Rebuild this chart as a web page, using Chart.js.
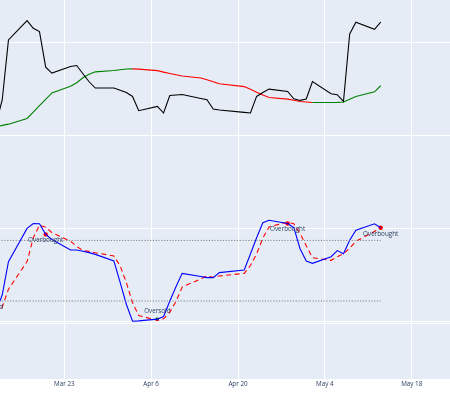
<!DOCTYPE html>
<html>
<head>
<meta charset="utf-8">
<script src="https://cdn.jsdelivr.net/npm/chart.js@4.4.1/dist/chart.umd.min.js"></script>
<style>
  html, body { margin: 0; padding: 0; background: #fff; }
  #wrap { width: 450px; height: 394px; }
</style>
</head>
<body>
<div id="wrap"><canvas id="stochChart" width="450" height="394"></canvas></div>
<script>
const dates = ['2025-03-10', '2025-03-11', '2025-03-12', '2025-03-13', '2025-03-14',
    '2025-03-17', '2025-03-18', '2025-03-19', '2025-03-20', '2025-03-21',
    '2025-03-24', '2025-03-25', '2025-03-26', '2025-03-27', '2025-03-28',
    '2025-03-31', '2025-04-01', '2025-04-02', '2025-04-03', '2025-04-04',
    '2025-04-07', '2025-04-08', '2025-04-09', '2025-04-10', '2025-04-11',
    '2025-04-14', '2025-04-15', '2025-04-16', '2025-04-17',
    '2025-04-21', '2025-04-22', '2025-04-23', '2025-04-24', '2025-04-25',
    '2025-04-28', '2025-04-29', '2025-04-30', '2025-05-01', '2025-05-02',
    '2025-05-05', '2025-05-06', '2025-05-07', '2025-05-08', '2025-05-09',
    '2025-05-12', '2025-05-13'];
const closePrice = [241.50, 240.86, 241.29, 243.87, 250.32,
    252.40, 251.58, 251.22, 247.39, 246.74,
    247.45, 247.56, 246.67, 245.81, 245.13,
    245.13, 244.90, 244.66, 244.23, 242.69,
    243.15, 242.44, 244.33, 244.39, 244.44,
    244.01, 243.87, 242.87, 242.77,
    242.51, 242.44, 244.23, 244.65, 245.02,
    244.77, 243.98, 243.80, 243.95, 245.84,
    244.52, 244.41, 243.69, 250.97, 252.23,
    251.47, 252.23];
const movingAvg = [240.65, 240.78, 240.91, 241.11, 241.24,
    241.86, 242.53, 243.23, 243.91, 244.61,
    245.33, 245.70, 246.24, 246.61, 246.88,
    247.02, 247.10, 247.18, 247.20, 247.17,
    247.01, 246.85, 246.70, 246.56, 246.43,
    246.22, 246.02, 245.81, 245.59,
    245.29, 245.00, 244.68, 244.38, 244.11,
    243.94, 243.81, 243.69, 243.63, 243.58,
    243.58, 243.59, 243.62, 243.92, 244.23,
    244.73, 245.38];
const stochK = [2.0, 6.0, 9.9, 26.2, 59.0,
    91.9, 96.8, 96.5, 86.0, 81.0,
    70.5, 70.5, 69.3, 67.9, 66.2,
    59.6, 38.5, 16.8, 0.0, 0.3,
    2.0, 4.6, 19.8, 34.1, 47.4,
    44.2, 43.2, 43.2, 48.1,
    50.7, 66.6, 82.7, 97.5, 100.0,
    96.8, 92.6, 71.8, 59.6, 57.3,
    63.9, 69.9, 66.9, 80.1, 90.2,
    96.5, 92.6];
const stochD = [3.5, 4.5, 6.7, 14.1, 31.7,
    59.0, 82.6, 95.1, 93.1, 87.8,
    79.2, 74.0, 70.1, 69.2, 67.8,
    64.6, 54.8, 38.3, 18.4, 5.7,
    0.8, 2.3, 8.8, 19.5, 33.8,
    41.9, 44.9, 43.5, 44.8,
    47.3, 55.1, 66.7, 82.3, 93.4,
    98.1, 96.5, 87.1, 74.7, 62.9,
    60.3, 63.7, 66.9, 72.3, 79.1,
    88.9, 93.1];
const overboughtDates = ['2025-03-20', '2025-04-28', '2025-05-13'];
const oversoldDates = ['2025-03-11', '2025-04-07'];
const overboughtLevel = 80;
const oversoldLevel = 20;
const xTickDates = ['2025-03-23', '2025-04-06', '2025-04-20', '2025-05-04', '2025-05-18'];
const priceGrid = [220, 230, 240, 250];
const monthNames = ['Jan', 'Feb', 'Mar', 'Apr', 'May', 'Jun', 'Jul', 'Aug', 'Sep', 'Oct', 'Nov', 'Dec'];

const toPts = (vals) => dates.map((d, i) => ({ x: Date.parse(d), y: vals[i] }));
const signalPts = (list) => list.map(d => ({ x: Date.parse(d), y: stochK[dates.indexOf(d)] }));

const GREEN = '#008000';
const RED = '#ff0000';
const FONT = "'Open Sans', 'Noto Sans', sans-serif";

// plot background like plotly template
const plotBg = {
    id: 'plotBg',
    beforeDraw(chart) {
        const { ctx, chartArea: a } = chart;
        ctx.save();
        ctx.fillStyle = '#E5ECF6';
        ctx.fillRect(a.left, a.top, a.right - a.left, a.bottom - a.top);
        ctx.restore();
    }
};

// "Overbought" / "Oversold" labels next to signal markers
const signalLabels = {
    id: 'signalLabels',
    afterDatasetsDraw(chart) {
        const { ctx, scales } = chart;
        ctx.save();
        ctx.font = '6.3px ' + FONT;
        ctx.fillStyle = '#2a3f5f';
        ctx.textAlign = 'center';
        ctx.textBaseline = 'middle';
        signalPts(overboughtDates).forEach(p => {
            ctx.fillText('Overbought', scales.x.getPixelForValue(p.x), scales.y2.getPixelForValue(p.y) + 6);
        });
        signalPts(oversoldDates).forEach(p => {
            ctx.fillText('Oversold', scales.x.getPixelForValue(p.x), scales.y2.getPixelForValue(p.y) - 7.5);
        });
        ctx.restore();
    }
};

const lineBase = { pointRadius: 0, borderWidth: 1.1, tension: 0, fill: false };

new Chart(document.getElementById('stochChart').getContext('2d'), {
    type: 'line',
    data: {
        datasets: [
            Object.assign({}, lineBase, {
                label: 'Close', data: toPts(closePrice), yAxisID: 'y', borderColor: '#000000'
            }),
            Object.assign({}, lineBase, {
                label: 'MA', data: toPts(movingAvg), yAxisID: 'y', borderColor: GREEN,
                segment: { borderColor: c => c.p1.parsed.y < c.p0.parsed.y ? RED : GREEN }
            }),
            Object.assign({}, lineBase, {
                label: 'Overbought level', data: toPts(dates.map(() => overboughtLevel)), yAxisID: 'y2',
                borderColor: 'rgba(120,120,120,0.9)', borderWidth: 1, borderDash: [1.2, 1.6]
            }),
            Object.assign({}, lineBase, {
                label: 'Oversold level', data: toPts(dates.map(() => oversoldLevel)), yAxisID: 'y2',
                borderColor: 'rgba(120,120,120,0.9)', borderWidth: 1, borderDash: [1.2, 1.6]
            }),
            Object.assign({}, lineBase, {
                label: '%K', data: toPts(stochK), yAxisID: 'y2', borderColor: '#0000ff'
            }),
            Object.assign({}, lineBase, {
                label: '%D', data: toPts(stochD), yAxisID: 'y2', borderColor: RED, borderDash: [5, 3.5]
            }),
            {
                label: 'Sell', type: 'line', showLine: false, data: signalPts(overboughtDates), yAxisID: 'y2',
                pointRadius: 2.2, pointStyle: 'circle', pointBackgroundColor: RED, pointBorderWidth: 0
            },
            {
                label: 'Buy', type: 'line', showLine: false, data: signalPts(oversoldDates), yAxisID: 'y2',
                pointRadius: 2.2, pointStyle: 'rect', pointBackgroundColor: GREEN, pointBorderWidth: 0
            }
        ]
    },
    options: {
        responsive: false,
        animation: false,
        events: [],
        layout: { autoPadding: false, padding: { left: 0, right: 0, top: 0, bottom: 5.4 } },
        plugins: { legend: { display: false }, tooltip: { enabled: false } },
        scales: {
            x: {
                type: 'linear',
                min: Date.UTC(2025, 2, 12, 15, 16),
                max: Date.UTC(2025, 4, 24, 4, 5),
                afterBuildTicks(scale) {
                    scale.ticks = xTickDates.map(d => ({ value: Date.parse(d) }));
                },
                grid: { color: '#ffffff', lineWidth: 1, drawTicks: false },
                border: { display: false },
                ticks: {
                    padding: 1,
                    maxRotation: 0,
                    autoSkip: false,
                    color: '#2a3f5f',
                    font: { family: FONT, size: 6.3 },
                    callback(v) {
                        const d = new Date(v);
                        return monthNames[d.getUTCMonth()] + ' ' + d.getUTCDate();
                    }
                }
            },
            y: {
                position: 'left',
                min: 213.763,
                max: 254.624,
                afterBuildTicks(scale) {
                    scale.ticks = priceGrid.map(v => ({ value: v }));
                },
                grid: { color: '#ffffff', lineWidth: 1, drawTicks: false },
                border: { display: false },
                ticks: { display: false }
            },
            y2: {
                position: 'left',
                min: -57.31,
                max: 318.18,
                afterBuildTicks(scale) {
                    scale.ticks = [{ value: -2.5 }];
                },
                grid: { color: '#ffffff', lineWidth: 1, drawTicks: false },
                border: { display: false },
                ticks: { display: false }
            }
        }
    },
    plugins: [plotBg, signalLabels]
});
</script>
</body>
</html>
